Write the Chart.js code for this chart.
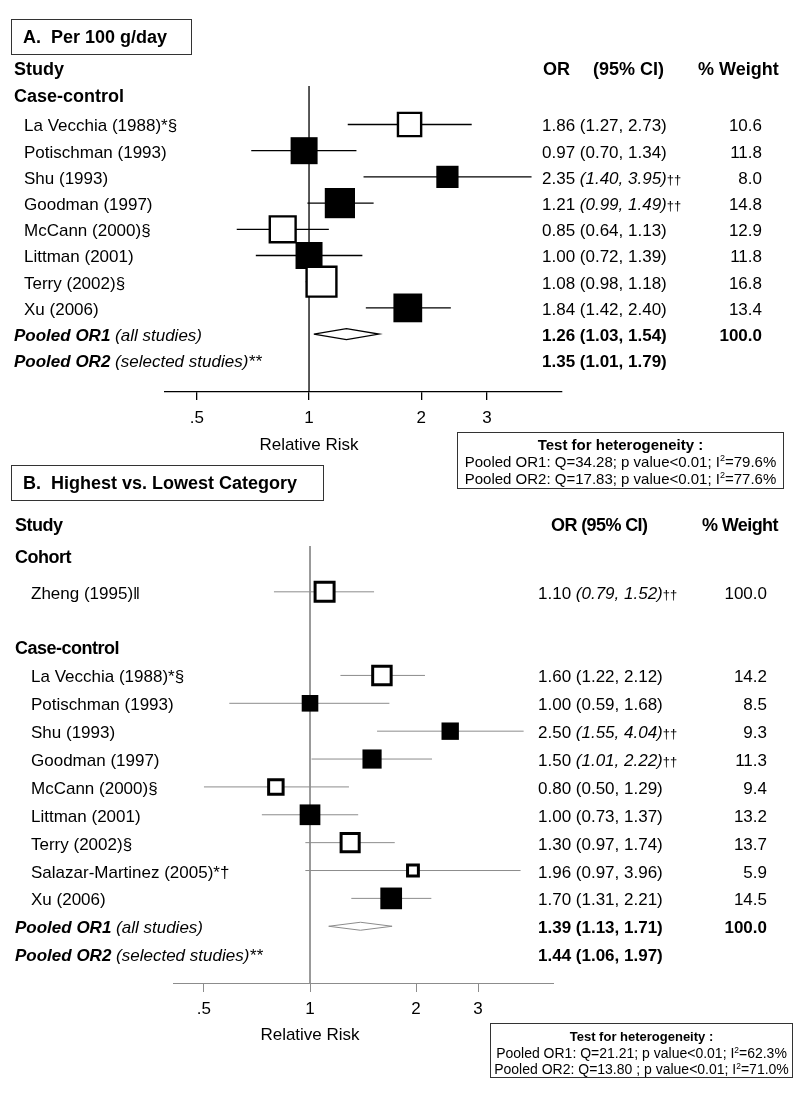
<!DOCTYPE html>
<html><head><meta charset="utf-8">
<script src="https://cdn.jsdelivr.net/npm/chart.js@4.4.1/dist/chart.umd.min.js"></script>
<style>
body{margin:0;background:#fff;}
#wrap{position:relative;width:800px;height:1094px;overflow:hidden;font-family:Arial,"Liberation Sans",sans-serif;color:#000;}
canvas{position:absolute;left:0;}
.t{position:absolute;white-space:nowrap;line-height:1;font-size:17px;transform:translateY(-50%);}
.r{transform:translate(-100%,-50%);}
.c{transform:translate(-50%,-50%);}
.b{font-weight:bold;}
.h{font-weight:bold;font-size:18px;}
.dg{font-size:13px;}
.box{position:absolute;border:1.5px solid #333;box-sizing:border-box;}
.het{position:absolute;border:1.5px solid #333;box-sizing:border-box;text-align:center;}
.het div{position:absolute;left:0;right:0;white-space:nowrap;line-height:1;transform:translateY(-50%);}
sup{font-size:0.6em;vertical-align:0.6em;line-height:0;}
</style></head>
<body><div id="wrap">
<canvas id="ca" width="800" height="440" style="top:0px"></canvas>
<canvas id="cb" width="800" height="530" style="top:500px"></canvas>
</div>
<script>
// ---------- Panel A: per 100 g/day ----------
const studiesA = ["La Vecchia (1988)*§","Potischman (1993)","Shu (1993)","Goodman (1997)","McCann (2000)§","Littman (2001)","Terry (2002)§","Xu (2006)"];
const rowA = [1,2,3,4,5,6,7,8];
const orA = [1.86,0.97,2.35,1.21,0.85,1.00,1.08,1.84];
const loA = [1.27,0.70,1.40,0.99,0.64,0.72,0.98,1.42];
const hiA = [2.73,1.34,3.95,1.49,1.13,1.39,1.18,2.40];
const weightA = [10.6,11.8,8.0,14.8,12.9,11.8,16.8,13.4];
const selectedA = [false,true,true,true,false,true,false,true];
const adjustedA = [false,false,true,true,false,false,false,false];
const pooledNameA = ["Pooled OR1","Pooled OR2"];
const pooledNoteA = ["(all studies)","(selected studies)**"];
const pooledRowA = [9,10];
const pooledOrA = [1.26,1.35];
const pooledLoA = [1.03,1.01];
const pooledHiA = [1.54,1.79];
const pooledWeightA = [100.0,null];
const hetQA = [34.28,17.83];
const hetI2A = [79.6,77.6];

// ---------- Panel B: highest vs lowest ----------
const cohortB = ["Zheng (1995)‖"];
const cohortRowB = [3];
const cohortOrB = [1.10];
const cohortLoB = [0.79];
const cohortHiB = [1.52];
const cohortWeightB = [100.0];
const cohortSelectedB = [false];
const cohortAdjustedB = [true];
const studiesB = ["La Vecchia (1988)*§","Potischman (1993)","Shu (1993)","Goodman (1997)","McCann (2000)§","Littman (2001)","Terry (2002)§","Salazar-Martinez (2005)*†","Xu (2006)"];
const rowB = [6,7,8,9,10,11,12,13,14];
const orB = [1.60,1.00,2.50,1.50,0.80,1.00,1.30,1.96,1.70];
const loB = [1.22,0.59,1.55,1.01,0.50,0.73,0.97,0.97,1.31];
const hiB = [2.12,1.68,4.04,2.22,1.29,1.37,1.74,3.96,2.21];
const weightB = [14.2,8.5,9.3,11.3,9.4,13.2,13.7,5.9,14.5];
const selectedB = [false,true,true,true,false,true,false,false,true];
const adjustedB = [false,false,true,true,false,false,false,false,false];
const pooledNameB = ["Pooled OR1","Pooled OR2"];
const pooledNoteB = ["(all studies)","(selected studies)**"];
const pooledRowB = [15,16];
const pooledOrB = [1.39,1.44];
const pooledLoB = [1.13,1.06];
const pooledHiB = [1.71,1.97];
const pooledWeightB = [100.0,null];
const hetQB = [21.21,13.80];
const hetI2B = [62.3,71.0];

const tickValues = [0.5,1,2,3];
const tickLabels = [".5","1","2","3"];

const FONT = 'Arial, "Liberation Sans", sans-serif';
const wrap = document.getElementById('wrap');

function txt(html, x, y, cls, style) {
  const d = document.createElement('div');
  d.className = 't ' + (cls || '');
  d.innerHTML = html;
  d.style.left = x + 'px';
  d.style.top = y + 'px';
  if (style) Object.assign(d.style, style);
  wrap.appendChild(d);
  return d;
}

function forest(canvasId, top, p) {
  const datasets = [];
  const allOr = p.or, allRow = p.row;
  // boxes
  datasets.push({
    data: allOr.map((v,i)=>({x:v,y:allRow[i]})),
    showLine:false, pointStyle:'rect', order:0, clip:false,
    pointRadius: ctx => { const i=ctx.dataIndex; const bw = p.selected[i]?0:p.hollowBW; return (p.side(i)-bw)/Math.SQRT2; },
    pointHoverRadius: ctx => { const i=ctx.dataIndex; const bw = p.selected[i]?0:p.hollowBW; return (p.side(i)-bw)/Math.SQRT2; },
    backgroundColor: ctx => p.selected[ctx.dataIndex] ? '#000' : '#fff',
    borderColor:'#000',
    borderWidth: ctx => p.selected[ctx.dataIndex] ? 0 : p.hollowBW
  });
  // CI lines
  allOr.forEach((v,i)=>{
    datasets.push({data:[{x:p.lo[i],y:allRow[i]},{x:p.hi[i],y:allRow[i]}], showLine:true, pointRadius:0, borderColor:p.lineColor, borderWidth:p.lineW, order:1, clip:false});
  });
  // pooled diamond (OR1)
  const h = p.diamondHalfPx / p.rowPitch;
  const r = p.pooledRow[0], e = p.pooledOr[0], l = p.pooledLo[0], u = p.pooledHi[0];
  datasets.push({data:[{x:l,y:r},{x:e,y:r-h},{x:u,y:r},{x:e,y:r+h},{x:l,y:r}], showLine:true, pointRadius:0, borderColor:p.diamondColor, borderWidth:p.diamondW, fill:false, order:1, clip:false});
  // reference line at 1
  datasets.push({data:[{x:1,y:p.ymin},{x:1,y:p.ymax}], showLine:true, pointRadius:0, borderColor:p.lineColor, borderWidth:p.lineW, order:2, clip:false});

  const chart = new Chart(document.getElementById(canvasId), {
    type:'scatter',
    data:{datasets},
    options:{
      responsive:false, animation:false, devicePixelRatio:1, events:[],
      layout:{padding:{left:p.left, right:800-p.right, top:p.top, bottom:0}},
      plugins:{legend:{display:false}, tooltip:{enabled:false}},
      scales:{
        x:{type:'logarithmic', min:p.xmin, max:p.xmax, position:'bottom',
          afterBuildTicks: s => { s.ticks = tickValues.map(v=>({value:v})); },
          afterFit: s => { s.height = p.xHeight; },
          ticks:{callback:(v,i)=>tickLabels[i], font:{family:FONT,size:17}, color:'#000', padding:p.tickPad, maxRotation:0, autoSkip:false},
          grid:{drawOnChartArea:false, drawTicks:true, tickLength:p.tickLen, color:p.lineColor, lineWidth:p.lineW},
          border:{display:true, color:p.lineColor, width:p.lineW}
        },
        y:{type:'linear', display:false, min:p.ymin, max:p.ymax, reverse:true}
      }
    }
  });
  return chart;
}

function ciHtml(or, lo, hi, adj) {
  const ci = '(' + lo.toFixed(2) + ', ' + hi.toFixed(2) + ')';
  return or.toFixed(2) + ' ' + (adj ? '<i>' + ci + '</i><span class="dg">††</span>' : ci);
}

// ----- Panel A chart -----
const chartA = forest('ca', 0, {
  or: orA, lo: loA, hi: hiA, row: rowA, selected: selectedA,
  side: i => 7.86*Math.sqrt(weightA[i]), hollowBW: 2.4,
  pooledRow: pooledRowA, pooledOr: pooledOrA, pooledLo: pooledLoA, pooledHi: pooledHiA,
  diamondHalfPx: 5.5, rowPitch: 26.2, diamondColor:'#000', diamondW:1.3,
  lineColor:'#000', lineW:1.3,
  left:165, right:562, top:86, xHeight:48, tickLen:8, tickPad:8,
  xmin:0.411, xmax:4.767, ymin:-0.469, ymax:11.21
});
// ----- Panel B chart -----
const chartB = forest('cb', 500, {
  or: cohortOrB.concat(orB), lo: cohortLoB.concat(loB), hi: cohortHiB.concat(hiB),
  row: cohortRowB.concat(rowB), selected: cohortSelectedB.concat(selectedB),
  side: i => i < cohortOrB.length ? 22 : 5.7*Math.sqrt(weightB[i-cohortOrB.length]), hollowBW: 3,
  pooledRow: pooledRowB, pooledOr: pooledOrB, pooledLo: pooledLoB, pooledHi: pooledHiB,
  diamondHalfPx: 4, rowPitch: 27.87, diamondColor:'#8c8c8c', diamondW:1,
  lineColor:'#8c8c8c', lineW:1,
  left:173, right:553, top:46, xHeight:47, tickLen:9, tickPad:7,
  xmin:0.4084, xmax:4.895, ymin:1.356, ymax:17.036
});

// ----- Text overlays -----
function rowY(chart, top, r) { return top + chart.scales.y.getPixelForValue(r) + 1; }

// Panel A texts
(function(){
  const b = document.createElement('div'); b.className='box';
  Object.assign(b.style,{left:'11px',top:'19px',width:'181px',height:'36px'}); wrap.appendChild(b);
  txt('A.&nbsp; Per 100 g/day', 23, 37, 'h');
  txt('Study', 14, 69, 'h');
  txt('OR', 543, 69, 'h');
  txt('(95% CI)', 593, 69, 'h');
  txt('% Weight', 698, 69, 'h');
  txt('Case-control', 14, 96, 'h');
  studiesA.forEach((s,i)=>{
    const y = rowY(chartA, 0, rowA[i]);
    txt(s, 24, y);
    txt(ciHtml(orA[i], loA[i], hiA[i], adjustedA[i]), 542, y);
    txt(weightA[i].toFixed(1), 762, y, 'r');
  });
  pooledNameA.forEach((s,i)=>{
    const y = rowY(chartA, 0, pooledRowA[i]);
    txt('<b><i>'+s+'</i></b><i> '+pooledNoteA[i]+'</i>', 14, y);
    txt(ciHtml(pooledOrA[i], pooledLoA[i], pooledHiA[i], false), 542, y, 'b');
    if (pooledWeightA[i] !== null) txt(pooledWeightA[i].toFixed(1), 762, y, 'r b');
  });
  txt('Relative Risk', 309, 444, 'c');
  const h = document.createElement('div'); h.className='het';
  Object.assign(h.style,{left:'457px',top:'432px',width:'327px',height:'57px'});
  h.innerHTML = '<div style="top:11px;font-weight:bold;font-size:15px">Test for heterogeneity :</div>'
    + '<div style="top:27.5px;font-size:15px">'+pooledNameA[0]+': Q='+hetQA[0].toFixed(2)+'; p value&lt;0.01; I<sup>2</sup>='+hetI2A[0].toFixed(1)+'%</div>'
    + '<div style="top:44.5px;font-size:15px">'+pooledNameA[1]+': Q='+hetQA[1].toFixed(2)+'; p value&lt;0.01; I<sup>2</sup>='+hetI2A[1].toFixed(1)+'%</div>';
  wrap.appendChild(h);
})();

// Panel B texts
(function(){
  const T = 500;
  const b = document.createElement('div'); b.className='box';
  Object.assign(b.style,{left:'11px',top:'465px',width:'313px',height:'36px'}); wrap.appendChild(b);
  txt('B.&nbsp; Highest vs. Lowest Category', 23, 483, 'h');
  txt('Study', 15, 525, 'h', {letterSpacing:'-0.5px'});
  txt('OR (95% CI)', 551, 525, 'h', {letterSpacing:'-0.6px'});
  txt('% Weight', 702, 525, 'h', {letterSpacing:'-0.6px'});
  txt('Cohort', 15, 557, 'h', {letterSpacing:'-0.5px'});
  txt('Case-control', 15, 648, 'h', {letterSpacing:'-0.5px'});
  cohortB.forEach((s,i)=>{
    const y = rowY(chartB, T, cohortRowB[i]);
    txt(s, 31, y);
    txt(ciHtml(cohortOrB[i], cohortLoB[i], cohortHiB[i], cohortAdjustedB[i]), 538, y);
    txt(cohortWeightB[i].toFixed(1), 767, y, 'r');
  });
  studiesB.forEach((s,i)=>{
    const y = rowY(chartB, T, rowB[i]);
    txt(s, 31, y);
    txt(ciHtml(orB[i], loB[i], hiB[i], adjustedB[i]), 538, y);
    txt(weightB[i].toFixed(1), 767, y, 'r');
  });
  pooledNameB.forEach((s,i)=>{
    const y = rowY(chartB, T, pooledRowB[i]);
    txt('<b><i>'+s+'</i></b><i> '+pooledNoteB[i]+'</i>', 15, y);
    txt(ciHtml(pooledOrB[i], pooledLoB[i], pooledHiB[i], false), 538, y, 'b');
    if (pooledWeightB[i] !== null) txt(pooledWeightB[i].toFixed(1), 767, y, 'r b');
  });
  txt('Relative Risk', 310, 1034, 'c');
  const h = document.createElement('div'); h.className='het';
  Object.assign(h.style,{left:'490px',top:'1023px',width:'303px',height:'55px'});
  h.innerHTML = '<div style="top:12px;font-weight:bold;font-size:13px">Test for heterogeneity :</div>'
    + '<div style="top:29px;font-size:14px">'+pooledNameB[0]+': Q='+hetQB[0].toFixed(2)+'; p value&lt;0.01; I<sup>2</sup>='+hetI2B[0].toFixed(1)+'%</div>'
    + '<div style="top:45px;font-size:14px">'+pooledNameB[1]+': Q='+hetQB[1].toFixed(2)+' ; p value&lt;0.01; I<sup>2</sup>='+hetI2B[1].toFixed(1)+'%</div>';
  wrap.appendChild(h);
})();
</script>
</body></html>
